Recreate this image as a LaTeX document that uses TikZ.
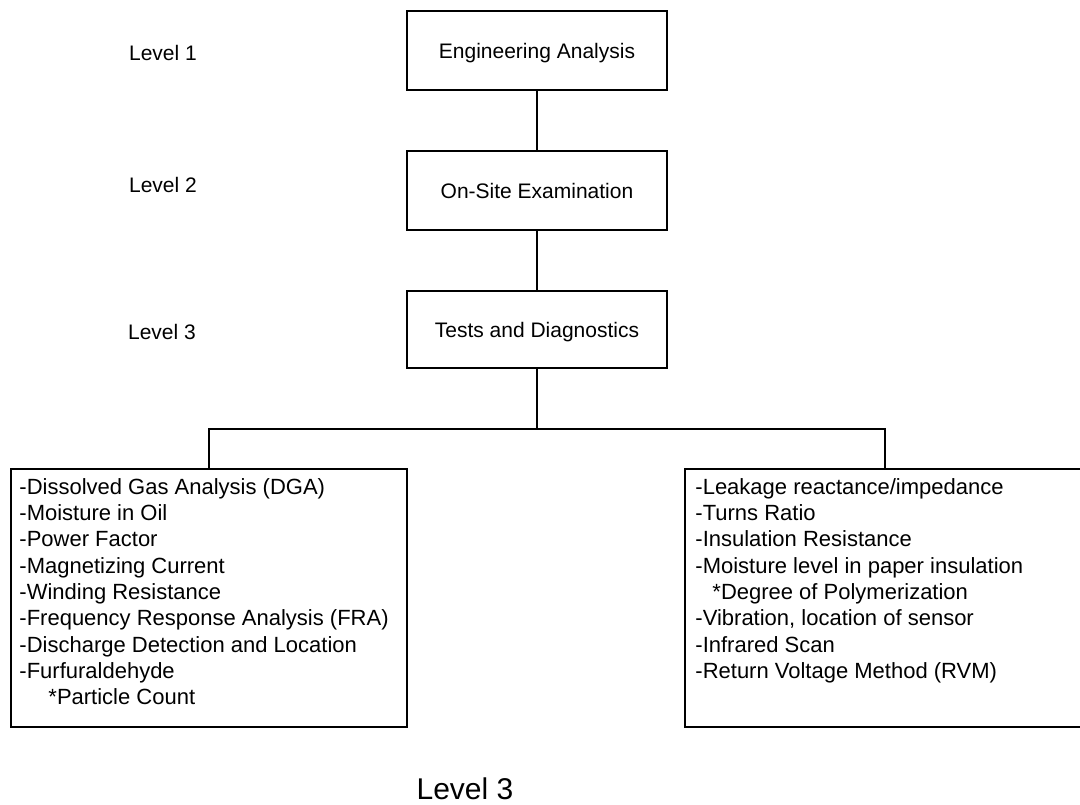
\documentclass[tikz,border=0pt]{standalone}
\usepackage{fontspec}
\setmainfont{Liberation Sans}
\usetikzlibrary{positioning}

\tikzset{
  levelbox/.style={draw,line width=1.5pt,minimum width=260pt,minimum height=79pt,inner sep=0pt,text depth=0pt,font=\fontsize{21}{25}\selectfont},
  listbox/.style={draw,line width=1.5pt,minimum width=398pt,minimum height=258pt,inner sep=0pt},
  listtext/.style={anchor=north west,align=left,inner sep=0pt,font=\fontsize{22}{26.3}\selectfont},
  levellabel/.style={font=\fontsize{21}{25}\selectfont,inner sep=0pt},
  link/.style={line width=1.5pt}
}

\begin{document}
\begin{tikzpicture}[x=1pt,y=1pt]
    \useasboundingbox (0,0) rectangle (1080,804);
    % level column
    \node[levellabel] (lev1) at (163,751) {Level 1};
    \node[levellabel] (lev2) at (163,619) {Level 2};
    \node[levellabel] (lev3) at (162,472) {Level 3};
    % hierarchy
    \node[levelbox] (eng) at (537,753.5) {Engineering Analysis};
    \node[levelbox] (site) at (537,613.5) {On-Site Examination};
    \node[levelbox,minimum height=77pt] (tests) at (537,474.5) {Tests and Diagnostics};
    \draw[link] (eng) -- (site);
    \draw[link] (site) -- (tests);
    % branches
    \coordinate (busm) at (537,375);
    \coordinate (busl) at (209,375);
    \coordinate (busr) at (885,375);
    \node[listbox,minimum width=396pt] (lbox) at (209,206) {};
    \node[listbox,minimum width=400pt] (rbox) at (885,206) {};
    \draw[link] (tests.south) -- (busm);
    \draw[link] (lbox.north) -- (busl) -- (busr) -- (rbox.north);
    \node[listtext] (ltext) at ([xshift=9pt,yshift=-10pt]lbox.north west) {-Dissolved Gas Analysis (DGA)\\
        -Moisture in Oil\\
        -Power Factor\\
        -Magnetizing Current\\
        -Winding Resistance\\
        -Frequency Response Analysis (FRA)\\
        -Discharge Detection and Location\\
        -Furfuraldehyde\\
        \hspace*{29pt}*Particle Count};
    \node[listtext] (rtext) at ([xshift=11pt,yshift=-10pt]rbox.north west) {-Leakage reactance/impedance\\
        -Turns Ratio\\
        -Insulation Resistance\\
        -Moisture level in paper insulation\\
        \hspace*{17pt}*Degree of Polymerization\\
        -Vibration, location of sensor\\
        -Infrared Scan\\
        -Return Voltage Method (RVM)};
    \node[font=\fontsize{30}{36}\selectfont,inner sep=0pt] (caption) at (465,15) {Level 3};
\end{tikzpicture}
\end{document}
